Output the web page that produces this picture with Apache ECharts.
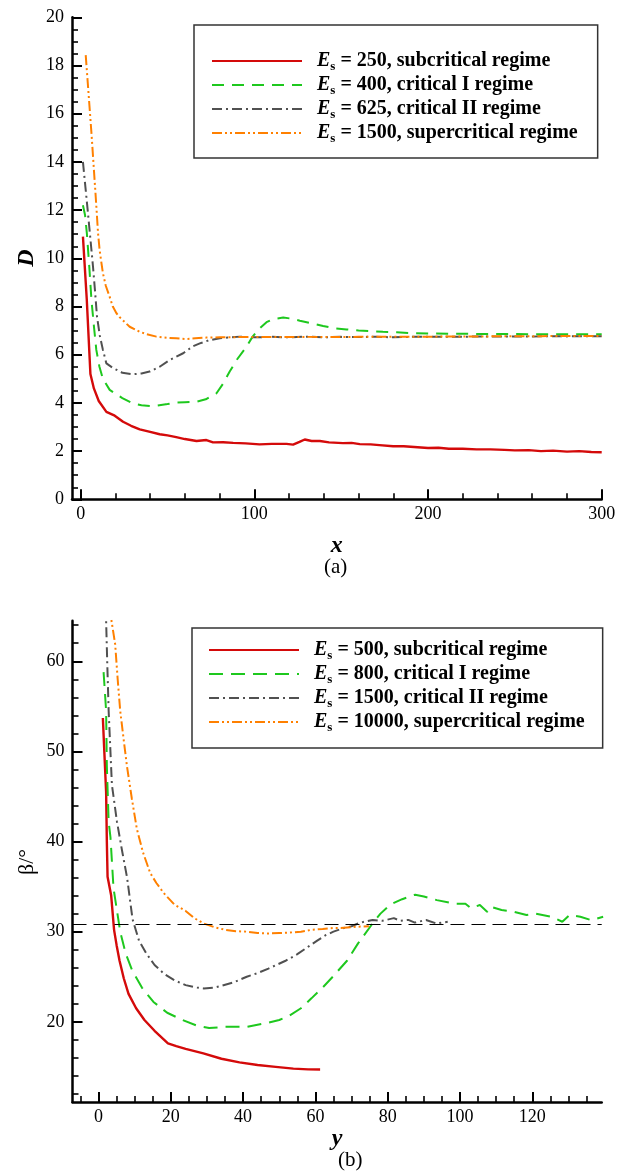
<!DOCTYPE html>
<html>
<head>
<meta charset="utf-8">
<script src="https://cdn.jsdelivr.net/npm/echarts@6/dist/echarts.min.js"></script>
<style>
  html, body { margin: 0; padding: 0; background: #fff; }
  #chart { width: 625px; height: 1176px; }
</style>
</head>
<body>
<div id="chart"></div>
<script>
// ---------- (a) D against x ----------
const dXMajor = [0, 100, 200, 300];
const dXMinor = [20, 40, 60, 80, 120, 140, 160, 180, 220, 240, 260, 280];
const dEsValues = ['250', '400', '625', '1500'];
const dRegimes = ['subcritical regime', 'critical I regime', 'critical II regime', 'supercritical regime'];

const dEs250 = [[1.3,10.9],[3.5,8.3],[5.6,5.2],[7.6,4.6],[10.4,4.08],[14.8,3.63],[19.6,3.47],[24.4,3.22],[29,3.05],[34,2.9],[40,2.8],[45.5,2.7],[50,2.65],[55,2.58],[60,2.5],[66.7,2.42],[72.4,2.46],[76.2,2.36],[82,2.37],[87.8,2.34],[95,2.32],[103,2.28],[110,2.3],[118.5,2.3],[122.3,2.27],[126,2.38],[129,2.48],[133,2.42],[137.7,2.42],[143,2.36],[151,2.33],[156,2.34],[160.7,2.29],[167,2.28],[172,2.25],[179.9,2.2],[186,2.2],[192,2.17],[200,2.13],[206,2.14],[212,2.1],[220,2.1],[228,2.07],[236,2.07],[244,2.05],[250,2.03],[258,2.04],[265,2.0],[272,2.02],[280,1.98],[287,2.0],[294,1.96],[300,1.95]];
const dEs400 = [[1.3,12.2],[2.5,11.8],[3.6,11.0],[5,9.6],[6.2,8.27],[7.6,7.2],[9,6.2],[10.8,5.5],[12.8,5.0],[16.7,4.54],[19.6,4.4],[24,4.2],[30.1,3.98],[35,3.9],[40,3.87],[43.6,3.88],[50,3.95],[55,4.01],[60,4.03],[66.7,4.05],[72,4.15],[78.2,4.4],[82,4.8],[85.8,5.3],[90,5.8],[95.5,6.33],[99,6.75],[103.1,7.1],[107,7.35],[110.8,7.48],[116.6,7.54],[121,7.5],[126.2,7.41],[133,7.3],[139.6,7.19],[146,7.1],[153.1,7.05],[160,7.0],[166.5,6.98],[174,6.95],[181.9,6.93],[190,6.9],[200,6.88],[215,6.87],[230,6.86],[245,6.86],[260,6.85],[275,6.85],[290,6.85],[300,6.85]];
const dEs625 = [[1.3,14.0],[2.8,12.9],[4.2,11.87],[5.6,10.8],[7.1,9.65],[8.3,8.6],[9.4,7.58],[11,6.8],[12.8,6.2],[14.8,5.64],[18.6,5.45],[24,5.25],[30.1,5.19],[35,5.22],[39.7,5.3],[45.5,5.5],[51.3,5.78],[59,6.06],[64.7,6.35],[68.6,6.47],[74,6.6],[80.1,6.68],[91.6,6.75],[100,6.72],[110,6.74],[120,6.72],[130,6.75],[140,6.72],[150,6.74],[160,6.73],[170,6.75],[179.9,6.72],[190,6.74],[200,6.74],[210,6.75],[220,6.74],[230,6.76],[240,6.75],[250,6.76],[260,6.75],[270,6.77],[280,6.76],[290,6.77],[300,6.77]];
const dEs1500 = [[2.9,18.43],[4.8,16.57],[6.2,15.2],[7.5,13.8],[8.8,12.4],[10,11.04],[10.9,10.34],[12.8,9.38],[14.5,8.85],[16.7,8.4],[18.5,8.0],[20.6,7.72],[22.5,7.55],[28.2,7.16],[34,6.95],[38,6.85],[43.6,6.75],[50,6.7],[55,6.68],[60.9,6.65],[66,6.68],[72.4,6.71],[80,6.72],[90,6.73],[100,6.74],[115,6.73],[130,6.74],[145,6.73],[160,6.74],[175,6.74],[190,6.75],[205,6.75],[220,6.76],[235,6.76],[250,6.77],[265,6.77],[280,6.78],[300,6.78]];

// ---------- (b) beta against y ----------
const bXMajor = [0, 20, 40, 60, 80, 100, 120];
const bXMinor = [-5, 5, 10, 15, 25, 30, 35, 45, 50, 55, 65, 70, 75, 85, 90, 95, 105, 110, 115, 125, 130, 135];
const bYMajor = [20, 30, 40, 50, 60];
const bYMinor = [12, 14, 16, 18, 22, 24, 26, 28, 32, 34, 36, 38, 42, 44, 46, 48, 52, 54, 56, 58, 62, 64];
const bEsValues = ['500', '800', '1500', '10000'];
const bRegimes = ['subcritical regime', 'critical I regime', 'critical II regime', 'supercritical regime'];
const betaRef = 30.8;

const bEs500 = [[1.2,53.7],[1.6,50],[2.1,45.5],[2.3,40],[2.5,36.1],[3.5,34.0],[4.3,30.2],[5.0,28.5],[5.8,26.8],[7,24.8],[8.3,23.1],[10.4,21.5],[12.7,20.2],[15.5,19.0],[19.2,17.6],[21.5,17.3],[24.1,17.0],[29,16.5],[34,15.9],[39,15.5],[44,15.2],[49,15.0],[53.9,14.8],[58,14.72],[61.3,14.7]];
const bEs800 = [[1.4,58.8],[2.1,54.5],[2.3,48.4],[2.8,42.2],[3.3,40.5],[4.15,34.8],[6.0,30.0],[7.5,27.6],[9.3,25.7],[12,23.8],[15.2,22.2],[19,21.0],[23.2,20.2],[27,19.6],[30.6,19.3],[35,19.44],[41,19.44],[47,19.9],[50,20.2],[52.9,20.7],[56,21.5],[58.9,22.6],[62,23.8],[64.8,25.0],[68.8,26.8],[71.8,28.7],[75.8,30.9],[78,32.0],[80.7,33.0],[84,33.6],[87.6,34.1],[90,33.9],[93.6,33.5],[98.6,33.1],[101.5,33.1],[103,32.6],[105.5,32.95],[107.5,32.2],[108.5,32.76],[111.5,32.4],[115,32.2],[118.4,31.84],[121,32.0],[125.4,31.65],[128.3,31.1],[130.3,31.84],[133.3,31.65],[136.3,31.28],[139.6,31.65]];
const bEs1500 = [[2.0,66],[2.4,60],[2.8,54.5],[3.7,46.3],[5.1,42.2],[6.5,39.0],[7.9,36.0],[9.4,31.4],[11.2,29.0],[13.2,27.6],[15.5,26.3],[18.2,25.3],[21,24.6],[24.1,24.07],[27,23.8],[29.1,23.7],[32,23.8],[34.1,24.0],[37.5,24.4],[41,25.0],[44,25.4],[47,25.9],[51.9,26.8],[55,27.5],[57.9,28.3],[60.5,29.0],[62.8,29.6],[65,30.0],[67.8,30.4],[70,30.6],[71.8,30.9],[73.5,31.1],[75.8,31.3],[78.5,31.2],[81.7,31.5],[83.5,31.2],[85.7,31.3],[87.5,31.0],[90.6,31.3],[93.5,30.9],[96.6,31.1]];
const bEs10000 = [[3.0,66],[4.6,61.9],[5.3,58],[6.0,54.5],[6.9,51.5],[7.85,48.4],[9.2,44.8],[10.6,41.4],[12.3,38.8],[14.3,36.5],[16,35.4],[18.0,34.3],[21,33.0],[24.1,32.3],[26.5,31.5],[29.1,30.9],[32,30.5],[35.1,30.2],[38,30.05],[41,30.0],[44,29.85],[47,29.8],[50,29.85],[52.9,29.9],[56,30.0],[58.9,30.2],[62,30.3],[64.8,30.4],[67,30.4],[69.8,30.5],[72,30.55],[74.8,30.6]];

// ---------- styling ----------
const SERIF = '"Liberation Serif", "Times New Roman", serif';
const colors = ['#d40a0a', '#1ec81e', '#505050', '#ff8000'];
const widths = [2.4, 2, 2, 2];
const dashes = ['solid', [12, 8], [10, 4, 2, 4], [10, 3, 2, 3, 2, 3]];
const bDashes = ['solid', [14, 8], [10, 4, 2, 4], [10, 3, 2, 3, 2, 3]];

const tickFont = { fontFamily: SERIF, fontSize: 18, color: '#000' };

function mainAxis(gridIndex, min, max, extra) {
  return Object.assign({
    type: 'value', gridIndex, min, max,
    axisLine: { show: true, onZero: false, lineStyle: { color: '#000', width: 2.5 } },
    axisTick: { show: true, inside: true, length: 10, lineStyle: { color: '#000', width: 2 } },
    axisLabel: Object.assign({ margin: 8 }, tickFont),
    splitLine: { show: false }
  }, extra);
}
function minorAxis(gridIndex, min, max, values, position) {
  return {
    type: 'value', gridIndex, min, max, position, offset: 0,
    axisLine: { show: false, onZero: false },
    axisTick: { show: true, inside: true, length: 6, customValues: values, lineStyle: { color: '#000', width: 1.6 } },
    axisLabel: { show: false },
    splitLine: { show: false }
  };
}

function legendFormatter(esList, regimes, names) {
  return function (name) {
    const i = names.indexOf(name);
    return '{g|}{e|E}{s|s}{t| = ' + esList[i] + ', ' + regimes[i] + '}';
  };
}
const legendRich = {
  g: { width: 10 },
  e: { fontFamily: SERIF, fontStyle: 'italic', fontWeight: 'bold', fontSize: 20, lineHeight: 24, color: '#000' },
  s: { fontFamily: SERIF, fontWeight: 'bold', fontSize: 13, lineHeight: 13, padding: [11, 0, 0, 0], color: '#000' },
  t: { fontFamily: SERIF, fontWeight: 'bold', fontSize: 20, lineHeight: 24, color: '#000' }
};

const dNames = ['dEs250', 'dEs400', 'dEs625', 'dEs1500'];
const bNames = ['bEs500', 'bEs800', 'bEs1500', 'bEs10000'];
const dData = [dEs250, dEs400, dEs625, dEs1500];
const bData = [bEs500, bEs800, bEs1500, bEs10000];

const series = [];
dData.forEach((d, i) => series.push({
  name: dNames[i], type: 'line', xAxisIndex: 0, yAxisIndex: 0, data: d,
  symbol: 'none', clip: true,
  lineStyle: { color: colors[i], width: widths[i], type: dashes[i] },
  itemStyle: { color: colors[i] }
}));
bData.forEach((d, i) => series.push({
  name: bNames[i], type: 'line', xAxisIndex: 2, yAxisIndex: 2, data: d,
  symbol: 'none', clip: true,
  lineStyle: { color: colors[i], width: widths[i], type: bDashes[i] },
  itemStyle: { color: colors[i] },
  markLine: i === 0 ? {
    silent: true, symbol: 'none', label: { show: false },
    lineStyle: { color: '#000', width: 1.2, type: [14, 7] },
    data: [{ yAxis: betaRef }]
  } : undefined
}));

function legendBox(names, esList, regimes, left, top, padding) {
  return {
    data: names, orient: 'vertical', left, top,
    itemWidth: 90, itemHeight: 12, itemGap: 0,
    padding,
    borderColor: '#333', borderWidth: 1.5, backgroundColor: '#fff',
    selectedMode: false,
    itemStyle: { color: 'rgba(0,0,0,0)', opacity: 0, borderWidth: 0 },
    formatter: legendFormatter(esList, regimes, names),
    textStyle: { rich: legendRich }
  };
}

// rotated y-axis titles
function yTitle(text, cx, cy, font) {
  return {
    type: 'text', x: cx, y: cy, rotation: Math.PI / 2,
    style: { text, font, fill: '#000', align: 'center', verticalAlign: 'middle' }
  };
}

const chart = echarts.init(document.getElementById('chart'), null, { renderer: 'canvas' });
chart.setOption({
  animation: false,
  backgroundColor: '#fff',
  grid: [
    { left: 72, top: 17.3, width: 529.7, height: 482 },
    { left: 72.5, top: 620.7, width: 529.2, height: 481.3 }
  ],
  xAxis: [
    mainAxis(0, -5, 300, {
      position: 'bottom',
      axisTick: { show: true, inside: true, length: 10, customValues: dXMajor, lineStyle: { color: '#000', width: 2 } },
      axisLabel: Object.assign({ margin: 6, customValues: dXMajor }, tickFont),
      name: 'x', nameLocation: 'middle', nameGap: 34,
      nameTextStyle: { fontFamily: SERIF, fontStyle: 'italic', fontWeight: 'bold', fontSize: 24, color: '#000' }
    }),
    minorAxis(0, -5, 300, dXMinor, 'bottom'),
    mainAxis(1, -7.2, 139.2, {
      position: 'bottom',
      axisTick: { show: true, inside: true, length: 10, customValues: bXMajor, lineStyle: { color: '#000', width: 2 } },
      axisLabel: Object.assign({ margin: 6, customValues: bXMajor }, tickFont),
      name: 'y', nameLocation: 'middle', nameGap: 25,
      nameTextStyle: { fontFamily: SERIF, fontStyle: 'italic', fontWeight: 'bold', fontSize: 24, color: '#000' }
    }),
    minorAxis(1, -7.2, 139.2, bXMinor, 'bottom')
  ],
  yAxis: [
    mainAxis(0, 0, 20, {
      position: 'left',
      interval: 2,
      minorTick: { show: true, splitNumber: 4, length: 6, lineStyle: { color: '#000', width: 1.6 } }
    }),
    minorAxis(0, 0, 20, [], 'left'),
    mainAxis(1, 11.1, 64.5, {
      position: 'left',
      axisTick: { show: true, inside: true, length: 10, customValues: bYMajor, lineStyle: { color: '#000', width: 2 } },
      axisLabel: Object.assign({ margin: 8, customValues: bYMajor }, tickFont)
    }),
    minorAxis(1, 11.1, 64.5, bYMinor, 'left')
  ],
  legend: [
    legendBox(dNames, dEsValues, dRegimes, 194, 25, [24, 20, 13, 17]),
    legendBox(bNames, bEsValues, bRegimes, 192, 628, [10, 18, 14, 16])
  ],
  graphic: [
    yTitle('D', 27, 258, 'italic bold 24px ' + SERIF),
    yTitle('β/°', 27, 862, '22px ' + SERIF),
    { type: 'text', left: 324, top: 557, style: { text: '(a)', font: '21px ' + SERIF, fill: '#000' } },
    { type: 'text', left: 338, top: 1150, style: { text: '(b)', font: '21px ' + SERIF, fill: '#000' } }
  ],
  series
});
</script>
</body>
</html>
